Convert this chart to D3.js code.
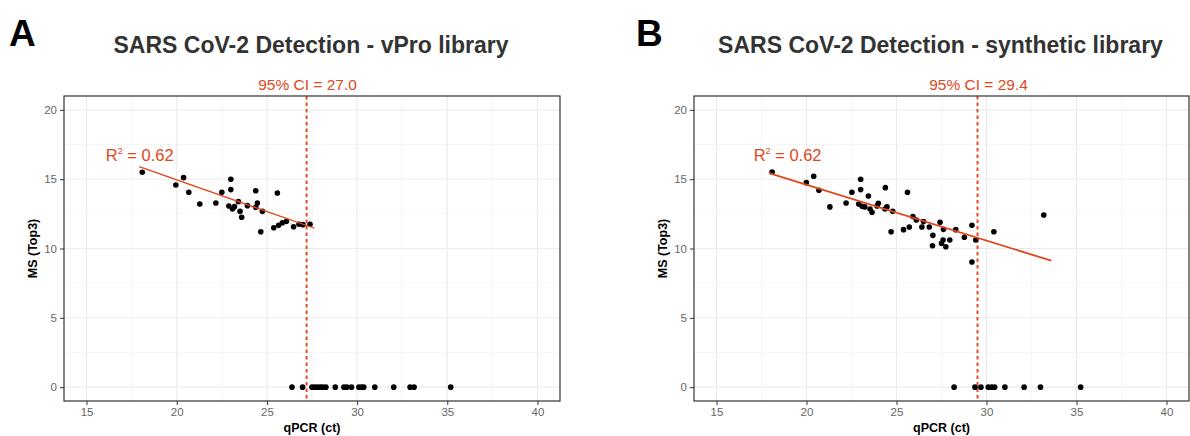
<!DOCTYPE html>
<html>
<head>
<meta charset="utf-8">
<script src="https://cdn.jsdelivr.net/npm/d3@7"></script>
<style>
  html, body { margin: 0; padding: 0; background: #fff; }
  svg { display: block; }
  text { font-family: "Liberation Sans", Arial, Helvetica, sans-serif; }
</style>
</head>
<body>
<svg id="chart" width="1190" height="436"></svg>
<script>
// ---------------- DATA ----------------
const xTicks = [15, 20, 25, 30, 35, 40];
const yTicks = [0, 5, 10, 15, 20];

// Panel A (vPro library): detected points (qPCR ct, MS Top3)
const vproCt = [18.09, 19.95, 20.38, 20.67, 21.28, 22.17, 22.5, 23.0, 23.0, 22.89, 23.09, 23.2, 23.42, 23.51, 23.6, 23.92, 24.38, 24.47, 24.38, 24.75, 24.66, 25.58, 25.38, 25.65, 25.86, 26.08, 26.48, 26.78, 27.0, 27.39];
const vproMS = [15.5, 14.58, 15.11, 14.06, 13.21, 13.28, 14.06, 15.0, 14.25, 13.07, 12.85, 13.02, 13.38, 12.68, 12.25, 13.09, 14.17, 13.28, 12.97, 12.68, 11.21, 14.0, 11.5, 11.67, 11.86, 11.96, 11.57, 11.75, 11.72, 11.75];
// Panel A: not detected (MS = 0)
const vproZeroCt = [26.39, 26.98, 27.5, 27.65, 27.8, 27.96, 28.1, 28.27, 28.79, 29.27, 29.43, 29.69, 30.1, 30.25, 30.37, 30.98, 32.03, 32.94, 33.16, 35.19];
const vproFitCt = [17.92, 27.64];
const vproFitMS = [15.9, 11.46];
const vproCI = 27.2;
const vproCILabel = "95% CI = 27.0";
const vproR2 = "0.62";

// Panel B (synthetic library)
const synCt = [18.09, 19.99, 20.4, 20.69, 21.3, 22.2, 22.52, 23.01, 23.01, 22.9, 23.09, 23.24, 23.44, 23.53, 23.64, 23.99, 23.92, 24.38, 24.47, 24.36, 24.79, 24.7, 25.61, 25.39, 25.71, 25.91, 26.1, 26.41, 26.5, 26.82, 27.02, 27.0, 27.42, 27.61, 27.59, 27.5, 27.74, 27.96, 28.29, 28.77, 29.19, 29.4, 29.19, 30.41, 33.18];
const synMS = [15.52, 14.75, 15.21, 14.2, 13.0, 13.28, 14.06, 15.0, 14.25, 13.21, 13.05, 13.0, 13.79, 12.85, 12.61, 13.26, 13.07, 14.39, 13.0, 12.85, 12.68, 11.21, 14.06, 11.36, 11.55, 12.3, 12.06, 11.55, 11.94, 11.55, 10.95, 10.2, 11.89, 11.38, 10.61, 10.37, 10.13, 10.61, 11.36, 10.81, 11.67, 10.61, 9.03, 11.21, 12.42];
const synZeroCt = [28.2, 29.36, 29.69, 30.1, 30.29, 30.45, 31.02, 32.09, 33.0, 35.23];
const synFitCt = [17.92, 33.6];
const synFitMS = [15.43, 9.12];
const synCI = 29.5;
const synCILabel = "95% CI = 29.4";
const synR2 = "0.62";

const panels = [
  { letter: "A", title: "SARS CoV-2 Detection - vPro library", ct: vproCt, ms: vproMS, zero: vproZeroCt,
    fitCt: vproFitCt, fitMS: vproFitMS, ci: vproCI, ciLabel: vproCILabel, r2: vproR2, r2x: 17.95,
    left: 64, right: 560, letterX: 9, fitWidth: 1.3 },
  { letter: "B", title: "SARS CoV-2 Detection - synthetic library", ct: synCt, ms: synMS, zero: synZeroCt,
    fitCt: synFitCt, fitMS: synFitMS, ci: synCI, ciLabel: synCILabel, r2: synR2, r2x: 18.95,
    left: 694, right: 1189, letterX: 636, fitWidth: 1.8 }
];

// ---------------- DRAW ----------------
const svg = d3.select("#chart");
svg.append("rect").attr("width", 1190).attr("height", 436).attr("fill", "#fff");

const RED = "#E2461C";
const pTop = 96, pBottom = 401;

panels.forEach((p, i) => {
  const x = d3.scaleLinear().domain([13.75, 41.25]).range([p.left, p.right]);
  const y = d3.scaleLinear().domain([-1, 21]).range([pBottom, pTop]);
  const g = svg.append("g");
  const clipId = "clip" + i;
  svg.append("clipPath").attr("id", clipId)
    .append("rect").attr("x", p.left).attr("y", pTop).attr("width", p.right - p.left).attr("height", pBottom - pTop);

  // minor grid
  const xMinor = [17.5, 22.5, 27.5, 32.5, 37.5];
  const yMinor = [2.5, 7.5, 12.5, 17.5];
  g.selectAll(".xminor").data(xMinor).join("line")
    .attr("x1", d => x(d)).attr("x2", d => x(d)).attr("y1", pTop).attr("y2", pBottom)
    .attr("stroke", "#F0F0F0").attr("stroke-width", 0.6);
  g.selectAll(".yminor").data(yMinor).join("line")
    .attr("y1", d => y(d)).attr("y2", d => y(d)).attr("x1", p.left).attr("x2", p.right)
    .attr("stroke", "#F0F0F0").attr("stroke-width", 0.6);
  // major grid
  g.selectAll(".xmajor").data(xTicks).join("line")
    .attr("x1", d => x(d)).attr("x2", d => x(d)).attr("y1", pTop).attr("y2", pBottom)
    .attr("stroke", "#EBEBEB").attr("stroke-width", 1.1);
  g.selectAll(".ymajor").data(yTicks).join("line")
    .attr("y1", d => y(d)).attr("y2", d => y(d)).attr("x1", p.left).attr("x2", p.right)
    .attr("stroke", "#EBEBEB").attr("stroke-width", 1.1);

  // axes
  const xAxis = d3.axisBottom(x).tickValues(xTicks).tickSize(4).tickPadding(3).tickFormat(d3.format("d"));
  const yAxis = d3.axisLeft(y).tickValues(yTicks).tickSize(4).tickPadding(3).tickFormat(d3.format("d"));
  const xa = g.append("g").attr("transform", `translate(0,${pBottom})`).call(xAxis);
  const ya = g.append("g").attr("transform", `translate(${p.left},0)`).call(yAxis);
  [xa, ya].forEach(a => {
    a.select(".domain").remove();
    a.selectAll(".tick line").attr("stroke", "#333").attr("stroke-width", 1);
    a.selectAll(".tick text").attr("fill", "#666").attr("font-size", 11.5);
  });

  const plot = g.append("g").attr("clip-path", `url(#${clipId})`);

  // CI dashed vertical line
  plot.append("line")
    .attr("x1", x(p.ci)).attr("x2", x(p.ci)).attr("y1", pTop).attr("y2", pBottom)
    .attr("stroke", RED).attr("stroke-width", 1.9).attr("stroke-dasharray", "3.5,3");

  // points
  const pts = p.ct.map((c, k) => ({ c, m: p.ms[k] })).concat(p.zero.map(c => ({ c, m: 0 })));
  plot.selectAll("circle").data(pts).join("circle")
    .attr("cx", d => x(d.c)).attr("cy", d => y(d.m)).attr("r", 2.8).attr("fill", "#000");

  // fit line
  plot.append("line")
    .attr("x1", x(p.fitCt[0])).attr("y1", y(p.fitMS[0]))
    .attr("x2", x(p.fitCt[1])).attr("y2", y(p.fitMS[1]))
    .attr("stroke", RED).attr("stroke-width", p.fitWidth);

  // panel border
  g.append("rect").attr("x", p.left).attr("y", pTop).attr("width", p.right - p.left).attr("height", pBottom - pTop)
    .attr("fill", "none").attr("stroke", "#333").attr("stroke-width", 1.2);

  // R² label
  const r2 = g.append("text").attr("x", x(p.r2x)).attr("y", y(16.3)).attr("text-anchor", "middle")
    .attr("fill", RED).attr("font-size", 16.5);
  r2.append("tspan").text("R");
  r2.append("tspan").attr("font-size", 9).attr("dy", -7).text("2");
  r2.append("tspan").attr("dy", 7).text(" = " + p.r2);

  // CI label
  g.append("text").attr("x", x(p.ci) + 1).attr("y", 90).attr("text-anchor", "middle")
    .attr("fill", RED).attr("font-size", 15.5).text(p.ciLabel);

  // title
  const cx = (p.left + p.right) / 2;
  g.append("text").attr("x", cx - 1).attr("y", 53).attr("text-anchor", "middle")
    .attr("fill", "#333").attr("font-size", 23).attr("font-weight", "bold").text(p.title);

  // axis titles
  g.append("text").attr("x", cx).attr("y", 432).attr("text-anchor", "middle")
    .attr("fill", "#000").attr("font-size", 12.5).attr("font-weight", "bold").text("qPCR (ct)");
  g.append("text").attr("transform", `translate(${p.left - 27},${(pTop + pBottom) / 2}) rotate(-90)`)
    .attr("text-anchor", "middle").attr("fill", "#000").attr("font-size", 12.5).attr("font-weight", "bold")
    .text("MS (Top3)");

  // panel letter
  g.append("text").attr("x", p.letterX).attr("y", 46).attr("fill", "#000")
    .attr("font-size", 37).attr("font-weight", "bold").text(p.letter);
});
</script>
</body>
</html>
